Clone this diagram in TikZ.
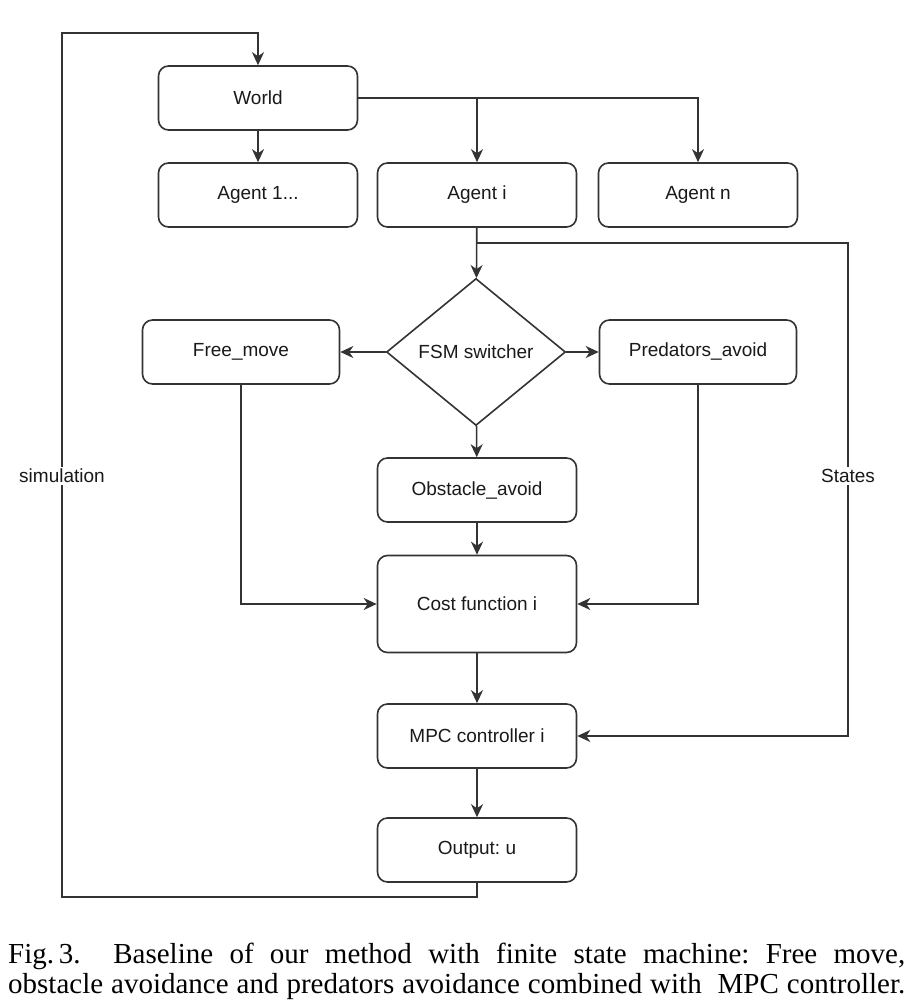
\documentclass[tikz,border=0pt]{standalone}
\usepackage{fontspec}
\setmainfont{Liberation Serif}
\newfontfamily\boxfont{Liberation Sans}
\usetikzlibrary{shapes.geometric,arrows.meta}
\definecolor{ink}{HTML}{333333}
\frenchspacing
\begin{document}
\begin{tikzpicture}[x=1pt,y=-1pt,
  box/.style={draw=ink, line width=1.6pt, rounded corners=10pt, inner sep=0pt,
    minimum width=199pt, minimum height=64pt, text=black!90,
    font=\boxfont\fontsize{19}{22}\selectfont},
  decision/.style={draw=ink, line width=1.6pt, diamond, aspect=1.22, inner sep=0pt,
    minimum width=179pt, minimum height=147pt, text=black!90,
    font=\boxfont\fontsize{19}{22}\selectfont},
  flow/.style={draw=ink, line width=1.6pt, -{Stealth[length=13pt,width=12pt,inset=4pt]}},
  tag/.style={fill=white, inner sep=2pt, text=black!90, font=\boxfont\fontsize{19}{22}\selectfont}]
\useasboundingbox (0,0) rectangle (920,1008);

% environment and agents
\node[box] (world) at (258,98) {World};
\node[box] (a1) at (258,195) {Agent 1...};
\node[box] (ai) at (477,195) {Agent i};
\node[box] (an) at (698,195) {Agent n};

% state machine of agent i
\node[decision] (fsm) at (476,352) {FSM switcher};
\node[box, minimum width=197pt] (fm) at (241,352) {Free\_move};
\node[box, minimum width=197pt] (pa) at (698,352) {Predators\_avoid};
\node[box] (oa) at (477,490) {Obstacle\_avoid};
\node[box, minimum height=97pt] (cf) at (477,604) {Cost function i};
\node[box] (mpc) at (477,736) {MPC controller i};
\node[box] (out) at (477,850) {Output: u};

% routing points
\coordinate (sb) at (477,243);
\coordinate (sr) at (848,243);
\coordinate (lb) at (62,897);
\coordinate (lt) at (62,33);

% world to agents
\draw[flow] (world) -- (a1);
\draw[flow] (world.east) -| (an.north);
\draw[flow] (world.east -| ai.north) -- (ai.north);

% agent i through the FSM
\draw[flow] (ai) -- (fsm);
\draw[flow] (fsm) -- (fm);
\draw[flow] (fsm) -- (pa);
\draw[flow] (fsm) -- (oa);
\draw[flow] (oa) -- (cf);
\draw[flow] (fm.south) |- (cf.west);
\draw[flow] (pa.south) |- (cf.east);
\draw[flow] (cf) -- (mpc);
\draw[flow] (mpc) -- (out);

% state feedback
\draw[flow] (sb) -- (sr) |- (mpc.east);
\node[tag] at (848,476) {States};

% simulation loop
\draw[flow] (out.south) |- (lb) -- (lt) -| (world.north);
\node[tag] at (62,476) {simulation};

% caption
\node[anchor=north west, inner sep=0pt, align=left,
  font=\fontsize{29}{30}\selectfont] (cap) at (8,943)
  {\makebox[897pt][s]{Fig.\,3.\ \ Baseline of our method with finite state machine: Free move,}\\
   \makebox[897pt][s]{obstacle avoidance and predators avoidance combined with \ MPC controller.}};
\end{tikzpicture}
\end{document}
